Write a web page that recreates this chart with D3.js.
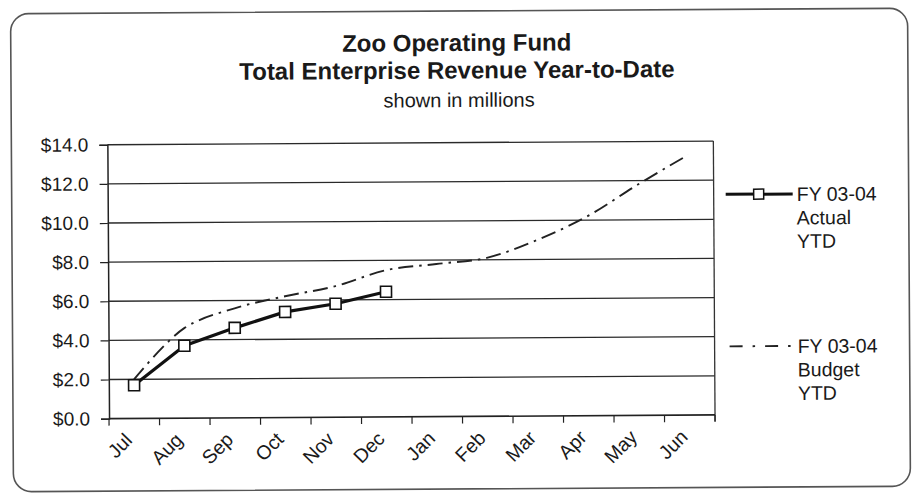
<!DOCTYPE html>
<html>
<head>
<meta charset="utf-8">
<script src="https://cdn.jsdelivr.net/npm/d3@7"></script>
<style>
  html, body { margin: 0; padding: 0; background: #fff; }
  svg { display: block; font-family: "Liberation Sans", Arial, sans-serif; }
</style>
</head>
<body>
<svg id="chart" width="913" height="496"></svg>
<script>
// Fiscal-year months, July through June
const months = ["Jul", "Aug", "Sep", "Oct", "Nov", "Dec", "Jan", "Feb", "Mar", "Apr", "May", "Jun"];
// Year-to-date revenue, $ millions
const actualYTD = [1.7, 3.7, 4.6, 5.4, 5.8, 6.4];
const budgetYTD = [2.0, 4.6, 5.6, 6.2, 6.7, 7.5, 7.8, 8.1, 9.0, 10.2, 11.8, 13.3];
const yTicks = [0, 2, 4, 6, 8, 10, 12, 14];
const titleLines = ["Zoo Operating Fund", "Total Enterprise Revenue Year-to-Date"];
const subtitle = "shown in millions";
const legendActual = ["FY 03-04", "Actual", "YTD"];
const legendBudget = ["FY 03-04", "Budget", "YTD"];

const W = 913, H = 496;
const plot = { left: 108, right: 714, top: 142.6, bottom: 416.5 };
const budgetDash = "15,6,2.5,6";

const svg = d3.select("#chart");
const root = svg.append("g").attr("transform", "rotate(-0.35, 456, 248)");

// outer rounded frame
root.append("rect")
  .attr("x", 12).attr("y", 11).attr("width", 897).attr("height", 478)
  .attr("rx", 18).attr("ry", 18)
  .attr("fill", "#fff").attr("stroke", "#555").attr("stroke-width", 1.6);

// titles
root.selectAll("text.title").data(titleLines).join("text")
  .attr("class", "title")
  .attr("x", 458).attr("y", (d, i) => 51 + i * 27.5)
  .attr("text-anchor", "middle")
  .attr("font-size", 24).attr("font-weight", "bold").attr("fill", "#1a1a1a")
  .text(d => d);
root.append("text")
  .attr("x", 460).attr("y", 107)
  .attr("text-anchor", "middle")
  .attr("font-size", 20).attr("fill", "#1a1a1a")
  .text(subtitle);

// scales
const x = d3.scaleBand().domain(months).range([plot.left, plot.right]).padding(0);
const y = d3.scaleLinear().domain([0, 14]).range([plot.bottom, plot.top]);
const cx = m => x(m) + x.bandwidth() / 2;

// horizontal gridlines
root.append("g").selectAll("line").data(yTicks.slice(1)).join("line")
  .attr("x1", plot.left).attr("x2", plot.right)
  .attr("y1", d => y(d)).attr("y2", d => y(d))
  .attr("stroke", "#2a2a2a").attr("stroke-width", 1.3);

// plot area border (right side)
root.append("line")
  .attr("x1", plot.right).attr("x2", plot.right)
  .attr("y1", plot.top).attr("y2", plot.bottom + 6)
  .attr("stroke", "#333").attr("stroke-width", 1.3);

// y axis
const yAxis = root.append("g")
  .attr("transform", `translate(${plot.left},0)`)
  .call(d3.axisLeft(y).tickValues(yTicks).tickSize(8).tickPadding(11)
    .tickFormat(d => "$" + d3.format(".1f")(d)));
yAxis.select(".domain").attr("stroke", "#222").attr("stroke-width", 1.5);
yAxis.selectAll(".tick line").attr("stroke", "#222").attr("stroke-width", 1.2);
yAxis.selectAll(".tick text").attr("font-size", 19).attr("fill", "#1a1a1a")
  .attr("font-family", "Liberation Sans, Arial, sans-serif");

// x axis: line and ticks at month boundaries
const xAxisG = root.append("g");
xAxisG.append("line")
  .attr("x1", plot.left).attr("x2", plot.right)
  .attr("y1", plot.bottom).attr("y2", plot.bottom)
  .attr("stroke", "#222").attr("stroke-width", 1.6);
const boundaries = months.map(m => x(m)).concat([plot.right]);
xAxisG.selectAll("line.tk").data(boundaries).join("line")
  .attr("class", "tk")
  .attr("x1", d => d).attr("x2", d => d)
  .attr("y1", plot.bottom).attr("y2", plot.bottom + 7)
  .attr("stroke", "#222").attr("stroke-width", 1.2);
xAxisG.selectAll("text").data(months).join("text")
  .attr("transform", d => `translate(${cx(d) - 1},${plot.bottom + 23}) rotate(-45)`)
  .attr("text-anchor", "end")
  .attr("font-size", 19.5).attr("fill", "#1a1a1a")
  .text(d => d);

// budget line (smoothed, dash-dot)
const budgetLine = d3.line()
  .x((d, i) => cx(months[i]))
  .y(d => y(d))
  .curve(d3.curveCatmullRom.alpha(0.5));
root.append("path")
  .datum(budgetYTD)
  .attr("d", budgetLine)
  .attr("fill", "none").attr("stroke", "#222").attr("stroke-width", 1.9)
  .attr("stroke-dasharray", budgetDash);

// actual line with square markers
const actualLine = d3.line()
  .x((d, i) => cx(months[i]))
  .y(d => y(d));
root.append("path")
  .datum(actualYTD)
  .attr("d", actualLine)
  .attr("fill", "none").attr("stroke", "#111").attr("stroke-width", 3.2)
  .attr("stroke-linejoin", "round");
const ms = 11;
root.append("g").selectAll("rect").data(actualYTD).join("rect")
  .attr("x", (d, i) => cx(months[i]) - ms / 2)
  .attr("y", d => y(d) - ms / 2)
  .attr("width", ms).attr("height", ms)
  .attr("fill", "#fff").attr("stroke", "#111").attr("stroke-width", 1.6);

// legend
const lg = root.append("g");
lg.append("line")
  .attr("x1", 726).attr("x2", 793).attr("y1", 196).attr("y2", 196)
  .attr("stroke", "#111").attr("stroke-width", 3);
lg.append("rect")
  .attr("x", 759 - 5).attr("y", 196 - 5).attr("width", 10).attr("height", 10)
  .attr("fill", "#fff").attr("stroke", "#111").attr("stroke-width", 1.5);
lg.selectAll("text.la").data(legendActual).join("text")
  .attr("class", "la")
  .attr("x", 797).attr("y", (d, i) => 203 + i * 23.5)
  .attr("font-size", 19.5).attr("fill", "#1a1a1a")
  .text(d => d);
lg.append("line")
  .attr("x1", 729).attr("x2", 790).attr("y1", 348).attr("y2", 348)
  .attr("stroke", "#222").attr("stroke-width", 1.9)
  .attr("stroke-dasharray", "13,10,2.5,10");
lg.selectAll("text.lb").data(legendBudget).join("text")
  .attr("class", "lb")
  .attr("x", 797).attr("y", (d, i) => 355 + i * 23.5)
  .attr("font-size", 19.5).attr("fill", "#1a1a1a")
  .text(d => d);
</script>
</body>
</html>
